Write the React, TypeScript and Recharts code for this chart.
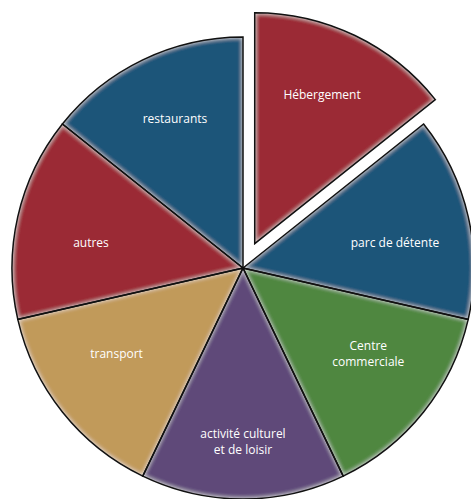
import React from "react";
import { PieChart, Pie, Cell } from "recharts";

const categories = [
  "Hébergement",
  "parc de détente",
  "Centre\ncommerciale",
  "activité culturel\net de loisir",
  "transport",
  "autres",
  "restaurants",
];
const values = [1, 1, 1, 1, 1, 1, 1];
const colors = ["#9b2a36", "#1d5479", "#4f8740", "#5f4879", "#c19a5a", "#9b2a36", "#1d5479"];
const explodedIndex = 0;

// label placement, as in the reference: distance from centre and angle shift (deg)
const labelRadius = [163, 154, 152, 174, 153, 154, 164];
const labelShift = [1.3, -3.6, 4.1, 0, -4.3, 3.6, -1.2];

const data = categories.map((name, i) => ({ name, value: values[i] }));

const RAD = Math.PI / 180;
const CX = 243;
const CY = 268;
const R = 231;
const EXPLODE = 27;
const LINE = 16.5;

function makeLabel(showExploded: boolean) {
  return (props: any) => {
    const { cx, cy, midAngle, index } = props;
    if ((index === explodedIndex) !== showExploded) return null;
    const r = labelRadius[index];
    const a = (midAngle + labelShift[index]) * RAD;
    const x = cx + r * Math.cos(-a);
    const y = cy + r * Math.sin(-a);
    const lines = categories[index].split("\n");
    return (
      <text
        x={x}
        y={y + 4 - ((lines.length - 1) * LINE) / 2}
        fill="#ffffff"
        textAnchor="middle"
        style={{ fontSize: 12, fontFamily: "'Open Sans', sans-serif" }}
      >
        {lines.map((l, j) => (
          <tspan key={j} x={x} dy={j === 0 ? 0 : LINE}>
            {l}
          </tspan>
        ))}
      </text>
    );
  };
}

export default function App() {
  const mid = 90 - (360 / categories.length) * (explodedIndex + 0.5);
  const ex = CX + EXPLODE * Math.cos(mid * RAD);
  const ey = CY - EXPLODE * Math.sin(mid * RAD);

  // one pie for the slices in place, one for the pulled-out slice
  const layers = [
    { cx: CX, cy: CY, show: (i: number) => i !== explodedIndex, exploded: false },
    { cx: ex, cy: ey, show: (i: number) => i === explodedIndex, exploded: true },
  ];

  return (
    <div style={{ position: "absolute", left: 0, top: 0, background: "#fff" }}>
      <PieChart width={471} height={499} margin={{ top: 0, right: 0, bottom: 0, left: 0 }}>
        <defs>
          <filter id="bevel" x="-5%" y="-5%" width="110%" height="110%">
            <feGaussianBlur in="SourceAlpha" stdDeviation="2.5" result="blur" />
            <feComposite
              in="SourceAlpha"
              in2="blur"
              operator="arithmetic"
              k1="0"
              k2="1"
              k3="-1"
              k4="0"
              result="edge"
            />
            <feFlood floodColor="#ffffff" floodOpacity="0.9" result="white" />
            <feComposite in="white" in2="edge" operator="in" result="glow" />
            <feMerge>
              <feMergeNode in="SourceGraphic" />
              <feMergeNode in="glow" />
            </feMerge>
          </filter>
        </defs>
        {layers.map((L, k) => (
          <Pie
            key={"fill" + k}
            data={data}
            dataKey="value"
            nameKey="name"
            cx={L.cx}
            cy={L.cy}
            outerRadius={R}
            startAngle={90}
            endAngle={-270}
            stroke="none"
            labelLine={false}
            isAnimationActive={false}
          >
            {data.map((d, i) => (
              <Cell
                key={d.name}
                fill={L.show(i) ? colors[i] : "none"}
                stroke="none"
                filter={L.show(i) ? "url(#bevel)" : undefined}
              />
            ))}
          </Pie>
        ))}
        {layers.map((L, k) => (
          <Pie
            key={"line" + k}
            data={data}
            dataKey="value"
            nameKey="name"
            cx={L.cx}
            cy={L.cy}
            outerRadius={R}
            startAngle={90}
            endAngle={-270}
            fill="none"
            label={makeLabel(L.exploded)}
            labelLine={false}
            isAnimationActive={false}
          >
            {data.map((d, i) => (
              <Cell
                key={d.name}
                fill="none"
                stroke={L.show(i) ? "#111" : "none"}
                strokeWidth={1.5}
              />
            ))}
          </Pie>
        ))}
      </PieChart>
    </div>
  );
}
